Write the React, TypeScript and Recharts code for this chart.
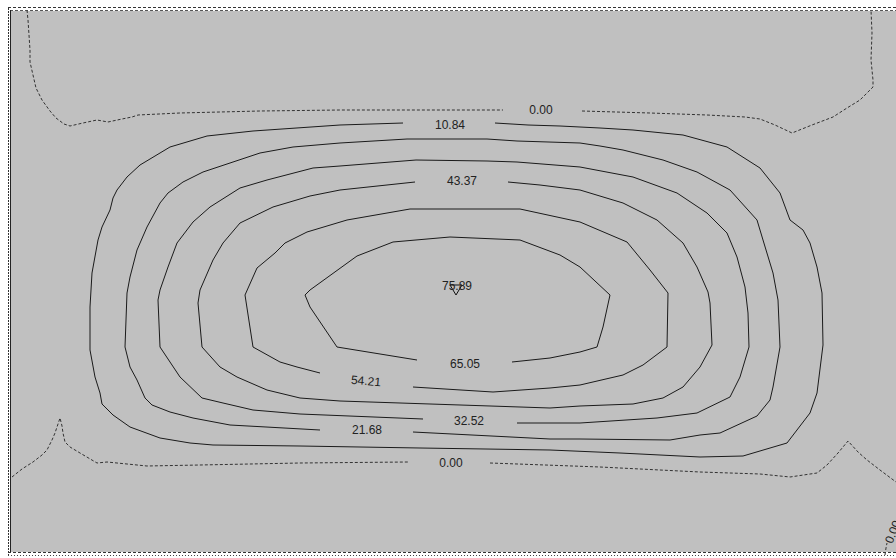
import React from 'react';
import { ScatterChart, Scatter, XAxis, YAxis, ReferenceArea, ReferenceLine } from 'recharts';

type P = [number, number];

// Contour polylines (map coordinates), each broken where its label sits
const c_0_00_topLeft: P[] = [[27,10],[28,20],[29,35],[30,50],[30,62],[33,75],[36,88],[42,100],[50,111],[56,118],[64,124],[70,126],[83,123],[97,120],[108,122],[122,119],[132,117],[138,115],[180,113],[260,111],[340,110],[420,110],[503,110]];
const c_0_00_topRight: P[] = [[582,111],[650,113],[707,115],[745,117],[760,119],[775,125],[792,133],[812,125],[833,117],[847,108],[860,100],[867,93],[873,87],[873,80],[871,60],[872,33],[871,10]];
const c_0_00_bottomLeft: P[] = [[12,477],[22,469],[33,462],[42,455],[47,450],[52,440],[55,433],[58,424],[60,418],[62,426],[63,433],[65,442],[70,447],[80,453],[97,463],[107,462],[147,466],[200,465],[300,463],[408,462]];
const c_0_00_bottomRight: P[] = [[490,463],[600,467],[700,472],[760,474],[790,477],[817,473],[827,465],[838,453],[848,441],[858,452],[867,460],[880,470],[896,482]];
const c_0_00_corner: P[] = [[885,555],[886,548],[887,543]];

const c_10_84: P[] = [[495,123],[528,125],[560,126],[600,128],[633,130],[683,135],[727,147],[760,168],[780,193],[790,220],[803,230],[810,243],[817,267],[822,293],[823,345],[817,393],[810,413],[787,443],[743,456],[700,457],[620,453],[550,450],[420,448],[300,446],[213,445],[190,443],[160,438],[130,427],[113,415],[102,404],[100,393],[95,377],[90,350],[90,307],[92,273],[98,240],[102,227],[110,210],[113,198],[117,190],[127,177],[140,165],[170,147],[207,136],[253,131],[340,125],[403,123]];
const c_21_68: P[] = [[413,432],[550,439],[580,439],[670,440],[700,435],[720,433],[757,416],[770,400],[773,387],[780,347],[778,300],[773,273],[763,240],[757,220],[730,190],[697,172],[663,160],[623,150],[600,146],[580,143],[517,141],[487,139],[407,139],[340,143],[293,147],[260,153],[233,162],[203,172],[183,182],[168,193],[160,203],[147,227],[137,250],[130,277],[127,293],[125,347],[130,367],[137,380],[145,398],[152,405],[170,412],[193,418],[230,425],[320,430]];
const c_32_52: P[] = [[517,423],[580,423],[657,418],[697,413],[730,397],[740,377],[749,347],[748,313],[745,287],[737,257],[727,233],[707,213],[677,193],[633,177],[580,167],[517,162],[487,161],[416,160],[340,166],[313,168],[267,180],[240,188],[210,207],[193,222],[177,243],[168,267],[160,290],[158,300],[160,347],[180,377],[202,398],[223,403],[253,410],[300,414],[423,419]];
const c_43_37: P[] = [[508,182],[540,185],[580,190],[623,203],[657,220],[683,243],[697,267],[708,292],[710,303],[712,345],[700,367],[683,387],[663,398],[633,404],[580,406],[550,408],[340,401],[300,398],[267,390],[260,387],[237,377],[220,367],[202,347],[198,303],[200,290],[213,260],[223,243],[240,223],[273,207],[310,196],[340,190],[415,182]];
const c_54_21: P[] = [[413,387],[493,392],[550,388],[580,385],[623,375],[643,365],[667,347],[668,293],[650,270],[627,242],[580,222],[520,209],[410,209],[347,220],[307,232],[285,243],[275,253],[257,268],[245,295],[253,347],[280,362],[297,367],[320,373]];
const c_65_05: P[] = [[512,362],[550,358],[580,352],[597,347],[603,327],[610,295],[580,267],[560,255],[520,240],[450,237],[393,242],[357,256],[310,290],[305,295],[310,307],[337,347],[417,360]];

const solidContours: P[][] = [c_10_84, c_21_68, c_32_52, c_43_37, c_54_21, c_65_05];
const dashedContours: P[][] = [c_0_00_topLeft, c_0_00_topRight, c_0_00_bottomLeft, c_0_00_bottomRight, c_0_00_corner];

const labels = [
  { x: 541, y: 110, t: '0.00', angle: 0 },
  { x: 450, y: 125, t: '10.84', angle: 0 },
  { x: 462, y: 181, t: '43.37', angle: 0 },
  { x: 457, y: 286, t: '75.89', angle: 0 },
  { x: 465, y: 364, t: '65.05', angle: 0 },
  { x: 366, y: 381, t: '54.21', angle: 5 },
  { x: 469, y: 421, t: '32.52', angle: 0 },
  { x: 367, y: 430, t: '21.68', angle: 0 },
  { x: 451, y: 463, t: '0.00', angle: 0 },
  { x: 893, y: 532, t: '0.00', angle: -68 },
];

const peak = [{ x: 456, y: 290 }];

const toPts = (a: P[]) => a.map(([x, y]) => ({ x, y }));

const NoShape = () => <g />;

const LabelShape = (props: any) => {
  const { cx, cy, payload } = props;
  return (
    <text
      x={cx}
      y={cy}
      textAnchor="middle"
      dominantBaseline="central"
      fontSize={12}
      fontFamily="'Liberation Sans', Arial, sans-serif"
      fill="#222"
      transform={payload.angle ? `rotate(${payload.angle} ${cx} ${cy})` : undefined}
    >
      {payload.t}
    </text>
  );
};

const PeakShape = (props: any) => {
  const { cx, cy } = props;
  return <path d={`M${cx - 6},${cy - 5}L${cx + 6},${cy - 5}L${cx},${cy + 5}Z`} fill="none" stroke="#111" strokeWidth={1} />;
};

export default function App() {
  return (
    <div style={{ position: 'absolute', left: 0, top: 0, width: 896, height: 558, background: '#fff' }}>
      <ScatterChart width={896} height={558} margin={{ top: 0, right: 0, bottom: 0, left: 0 }}>
        <XAxis type="number" dataKey="x" domain={[0, 896]} hide />
        <YAxis type="number" dataKey="y" domain={[0, 558]} reversed hide />
        <ReferenceArea x1={11} x2={896} y1={11} y2={552} fill="#c0c0c0" fillOpacity={1} stroke="none" />
        <ReferenceLine segment={[{ x: 8, y: 7.5 }, { x: 896, y: 7.5 }]} stroke="#333" strokeDasharray="3 2" />
        <ReferenceLine segment={[{ x: 10, y: 10.5 }, { x: 896, y: 10.5 }]} stroke="#555" strokeDasharray="3 2" />
        <ReferenceLine segment={[{ x: 8.5, y: 8 }, { x: 8.5, y: 557 }]} stroke="#333" strokeDasharray="2 1" />
        <ReferenceLine segment={[{ x: 10.5, y: 10 }, { x: 10.5, y: 553 }]} stroke="#222" />
        <ReferenceLine segment={[{ x: 8, y: 552.5 }, { x: 896, y: 552.5 }]} stroke="#333" strokeDasharray="3 2" />
        <ReferenceLine segment={[{ x: 8, y: 555.5 }, { x: 896, y: 555.5 }]} stroke="#444" strokeDasharray="1 2" />
        {solidContours.map((c, i) => (
          <Scatter
            key={'s' + i}
            data={toPts(c)}
            fill="none"
            line={{ stroke: '#1a1a1a', strokeWidth: 1 }}
            lineType="joint"
            shape={NoShape}
            isAnimationActive={false}
          />
        ))}
        {dashedContours.map((c, i) => (
          <Scatter
            key={'d' + i}
            data={toPts(c)}
            fill="none"
            line={{ stroke: '#333', strokeWidth: 1, strokeDasharray: '3 2' }}
            lineType="joint"
            shape={NoShape}
            isAnimationActive={false}
          />
        ))}
        <Scatter data={peak} shape={PeakShape} isAnimationActive={false} />
        <Scatter data={labels} shape={LabelShape} isAnimationActive={false} />
      </ScatterChart>
    </div>
  );
}
